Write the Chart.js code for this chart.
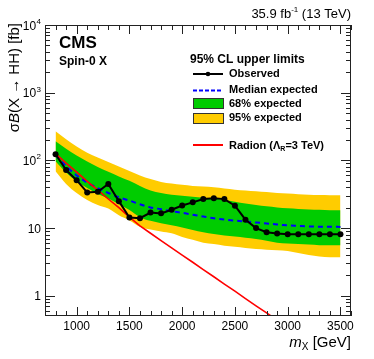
<!DOCTYPE html>
<html>
<head>
<meta charset="utf-8">
<script src="https://cdn.jsdelivr.net/npm/chart.js@4/dist/chart.umd.min.js"></script>
<style>
  html, body { margin: 0; padding: 0; background: #fff; }
  canvas { display: block; }
</style>
</head>
<body>
<canvas id="limitChart" width="374" height="359"></canvas>
<script>
// resonance masses [GeV]
const masses = [800, 900, 1000, 1100, 1200, 1300, 1400, 1500, 1600, 1700, 1800, 1900, 2000, 2100,
  2200, 2300, 2400, 2500, 2600, 2700, 2800, 2900, 3000, 3100, 3200, 3300, 3400, 3500];

// 95% CL upper limits on sigma*B [fb]
const observed = [123, 72, 51, 33.6, 34.5, 45, 25, 14.3, 14, 17, 16.5, 18.7, 21.6, 24,
  26.8, 27.5, 26.8, 21.4, 13.3, 10, 8.7, 8.3, 8.1, 8.1, 8.1, 8.1, 8.1, 8.1];
const medianExp = [120, 82, 60, 47, 39, 33, 28.5, 25.5, 22.5, 20.2, 19, 17.8, 16.8, 15.8,
  14.8, 14, 13.4, 12.9, 12.5, 12.1, 11.7, 11.3, 11, 10.8, 10.6, 10.5, 10.5, 10.4];
const band68Up = [191, 148, 118, 96, 80, 68, 58, 50, 42, 36, 33, 31, 30, 29,
  28, 27.4, 26, 24.5, 23, 22, 21, 20.2, 19.6, 19.2, 18.8, 18.6, 18.4, 18.4];
const band68Down = [97, 66, 49, 39, 32, 27.4, 22.5, 18.5, 14.5, 12.8, 11.8, 11, 10.2, 9.4,
  8.7, 8.2, 7.8, 7.5, 7.2, 6.9, 6.5, 6.1, 5.9, 5.8, 5.7, 5.6, 5.6, 5.6];
const band95Up = [270, 205, 161, 130, 110, 95, 81, 70, 60, 53, 48, 45.5, 43.5, 42,
  41, 40, 38.5, 37, 36, 35, 34, 33, 32.3, 31.7, 31.2, 30.8, 30.6, 30.5];
const band95Down = [69, 45, 33, 26, 22, 19.5, 15.5, 13, 10.5, 9.5, 8.9, 8.4, 7.4, 6.7,
  6.1, 5.8, 5.5, 5.3, 5.1, 4.9, 4.8, 4.7, 4.6, 4.3, 4, 3.8, 3.7, 3.7];
// radion, Lambda_R = 3 TeV
const radion = [126, 91, 67, 49, 36.3, 26.9, 20, 14.5, 10.8, 8.4, 6.55, 5.1, 4, 3.13,
  2.44, 1.91, 1.49, 1.17, 0.91, 0.71, 0.56, 0.435];

const xMajorTicks = [1000, 1500, 2000, 2500, 3000, 3500];
const yDecades = [1, 10, 100, 1000, 10000];

const GREEN = "#00cc00";
const YELLOW = "#ffcc00";

function pts(arr) {
  return arr.map((v, i) => ({ x: masses[i], y: v }));
}

const decorations = {
  id: "decorations",
  afterDraw(chart) {
    const ctx = chart.ctx;
    const xs = chart.scales.x;
    const ys = chart.scales.y;
    const a = chart.chartArea;
    ctx.save();

    // frame
    ctx.strokeStyle = "#222";
    ctx.lineWidth = 1;
    ctx.strokeRect(a.left + 0.5, a.top + 0.5, a.right - a.left - 1, a.bottom - a.top - 1);

    // x ticks (inside, bottom and top)
    ctx.beginPath();
    for (let m = 700; m <= 3600; m += 100) {
      const px = Math.round(xs.getPixelForValue(m)) + 0.5;
      const len = m % 500 === 0 ? 9 : 5;
      ctx.moveTo(px, a.bottom);
      ctx.lineTo(px, a.bottom - len);
      ctx.moveTo(px, a.top);
      ctx.lineTo(px, a.top + len);
    }
    // y ticks (inside, left and right)
    for (let d = 0.1; d <= 1000; d *= 10) {
      for (let k = 1; k <= 10; k++) {
        const v = d * k;
        if (v < ys.min || v > ys.max) continue;
        const py = Math.round(ys.getPixelForValue(v)) + 0.5;
        const len = k === 1 || k === 10 ? 10 : 5;
        ctx.moveTo(a.left, py);
        ctx.lineTo(a.left + len, py);
        ctx.moveTo(a.right, py);
        ctx.lineTo(a.right - len, py);
      }
    }
    ctx.stroke();

    ctx.fillStyle = "#000";
    // x tick labels
    ctx.font = "12px 'Liberation Sans', Arial, sans-serif";
    ctx.textAlign = "center";
    ctx.textBaseline = "alphabetic";
    xMajorTicks.forEach((m) => {
      ctx.fillText(String(m), xs.getPixelForValue(m), 330);
    });

    // y tick labels
    yDecades.forEach((v) => {
      const py = ys.getPixelForValue(v);
      const exp = Math.round(Math.log10(v));
      ctx.textAlign = "right";
      if (exp <= 1) {
        ctx.font = "12px 'Liberation Sans', Arial, sans-serif";
        ctx.fillText(String(v), 41, py + 4.5);
      } else {
        ctx.font = "8px 'Liberation Sans', Arial, sans-serif";
        ctx.fillText(String(exp), 41, py - 1);
        const w = ctx.measureText(String(exp)).width;
        ctx.font = "12px 'Liberation Sans', Arial, sans-serif";
        ctx.fillText("10", 41 - w - 0.5, py + 4.5);
      }
    });

    // x axis title: m_X [GeV]
    ctx.textAlign = "left";
    const bigFont = "15px 'Liberation Sans', Arial, sans-serif";
    const itFont = "italic 15px 'Liberation Sans', Arial, sans-serif";
    const subFont = "10px 'Liberation Sans', Arial, sans-serif";
    ctx.font = itFont;
    const wM = ctx.measureText("m").width;
    ctx.font = subFont;
    const wX = ctx.measureText("X").width;
    ctx.font = bigFont;
    const wG = ctx.measureText(" [GeV]").width;
    let x0 = 351 - (wM + wX + wG);
    ctx.font = itFont;
    ctx.fillText("m", x0, 347);
    ctx.font = subFont;
    ctx.fillText("X", x0 + wM, 350);
    ctx.font = bigFont;
    ctx.fillText(" [GeV]", x0 + wM + wX, 347);

    // y axis title: sigma B(X -> HH) [fb]
    const parts = [
      ["σ", bigFont],
      ["B", itFont],
      ["(X → HH) [fb]", bigFont],
    ];
    let total = 0;
    parts.forEach((p) => {
      ctx.font = p[1];
      total += ctx.measureText(p[0]).width;
    });
    ctx.save();
    ctx.translate(19, 23 + total);
    ctx.rotate(-Math.PI / 2);
    let off = 0;
    parts.forEach((p) => {
      ctx.font = p[1];
      ctx.fillText(p[0], off, 0);
      off += ctx.measureText(p[0]).width;
    });
    ctx.restore();

    // lumi label
    ctx.textAlign = "right";
    ctx.font = "13px 'Liberation Sans', Arial, sans-serif";
    const tail = " (13 TeV)";
    const wTail = ctx.measureText(tail).width;
    ctx.fillText(tail, 351, 18);
    ctx.font = "8px 'Liberation Sans', Arial, sans-serif";
    const wSup = ctx.measureText("-1").width;
    ctx.fillText("-1", 351 - wTail, 12);
    ctx.font = "13px 'Liberation Sans', Arial, sans-serif";
    ctx.fillText("35.9 fb", 351 - wTail - wSup, 18);

    // CMS labels
    ctx.textAlign = "left";
    ctx.font = "bold 17px 'Liberation Sans', Arial, sans-serif";
    ctx.fillText("CMS", 59, 48);
    ctx.font = "bold 12px 'Liberation Sans', Arial, sans-serif";
    ctx.fillText("Spin-0 X", 59, 65);

    // legend
    const lx0 = 193, lx1 = 223, tx = 229;
    ctx.font = "bold 12px 'Liberation Sans', Arial, sans-serif";
    ctx.fillText("95% CL upper limits", 190, 63);
    ctx.font = "bold 11px 'Liberation Sans', Arial, sans-serif";
    ctx.fillText("Observed", tx, 77);
    ctx.fillText("Median expected", tx, 93);
    ctx.fillText("68% expected", tx, 107);
    ctx.fillText("95% expected", tx, 121);
    ctx.fillText("Radion (Λ", tx, 148.5);
    let wr = ctx.measureText("Radion (Λ").width;
    ctx.font = "bold 7px 'Liberation Sans', Arial, sans-serif";
    ctx.fillText("R", tx + wr, 151);
    wr += ctx.measureText("R").width;
    ctx.font = "bold 11px 'Liberation Sans', Arial, sans-serif";
    ctx.fillText("=3 TeV)", tx + wr, 148.5);

    ctx.lineWidth = 2;
    ctx.strokeStyle = "#000";
    ctx.beginPath();
    ctx.moveTo(lx0, 74);
    ctx.lineTo(lx1, 74);
    ctx.stroke();
    ctx.beginPath();
    ctx.arc((lx0 + lx1) / 2, 74, 2.3, 0, Math.PI * 2);
    ctx.fill();

    ctx.strokeStyle = "#0000ff";
    ctx.setLineDash([4, 2]);
    ctx.beginPath();
    ctx.moveTo(lx0, 90.5);
    ctx.lineTo(lx1, 90.5);
    ctx.stroke();
    ctx.setLineDash([]);

    ctx.lineWidth = 1;
    ctx.strokeStyle = "#333";
    ctx.fillStyle = GREEN;
    ctx.fillRect(lx0, 98.5, lx1 - lx0, 10);
    ctx.strokeRect(lx0 + 0.5, 98.5, lx1 - lx0, 10);
    ctx.fillStyle = YELLOW;
    ctx.fillRect(lx0, 113.5, lx1 - lx0, 10);
    ctx.strokeRect(lx0 + 0.5, 113.5, lx1 - lx0, 10);

    ctx.strokeStyle = "#ff0000";
    ctx.lineWidth = 2;
    ctx.beginPath();
    ctx.moveTo(lx0, 145);
    ctx.lineTo(lx1, 145);
    ctx.stroke();

    ctx.restore();
  },
};

new Chart(document.getElementById("limitChart"), {
  type: "line",
  data: {
    datasets: [
      {
        label: "Observed",
        data: pts(observed),
        borderColor: "#000",
        backgroundColor: "#000",
        borderWidth: 2,
        pointRadius: 3,
        pointBorderWidth: 0,
        fill: false,
        order: 1,
      },
      {
        label: "Radion",
        data: pts(radion),
        borderColor: "#ff0000",
        borderWidth: 1.6,
        pointRadius: 0,
        fill: false,
        order: 2,
      },
      {
        label: "Median expected",
        data: pts(medianExp),
        borderColor: "#0000ff",
        borderWidth: 2,
        borderDash: [5, 4],
        pointRadius: 0,
        cubicInterpolationMode: "monotone",
        fill: false,
        order: 3,
      },
      {
        label: "68% up",
        data: pts(band68Up),
        borderWidth: 0,
        borderColor: GREEN,
        backgroundColor: GREEN,
        pointRadius: 0,
        cubicInterpolationMode: "monotone",
        fill: "+1",
        order: 4,
      },
      {
        label: "68% down",
        data: pts(band68Down),
        borderWidth: 0,
        borderColor: GREEN,
        pointRadius: 0,
        cubicInterpolationMode: "monotone",
        fill: false,
        order: 4,
      },
      {
        label: "95% up",
        data: pts(band95Up),
        borderWidth: 0,
        borderColor: YELLOW,
        backgroundColor: YELLOW,
        pointRadius: 0,
        cubicInterpolationMode: "monotone",
        fill: "+1",
        order: 5,
      },
      {
        label: "95% down",
        data: pts(band95Down),
        borderWidth: 0,
        borderColor: YELLOW,
        pointRadius: 0,
        cubicInterpolationMode: "monotone",
        fill: false,
        order: 5,
      },
    ],
  },
  options: {
    responsive: false,
    animation: false,
    layout: { padding: { left: 45, right: 23, top: 25, bottom: 43 } },
    plugins: { legend: { display: false }, tooltip: { enabled: false } },
    scales: {
      x: { type: "linear", min: 700, max: 3600, display: false },
      y: { type: "logarithmic", min: 0.503, max: 10000, display: false },
    },
  },
  plugins: [decorations],
});
</script>
</body>
</html>
